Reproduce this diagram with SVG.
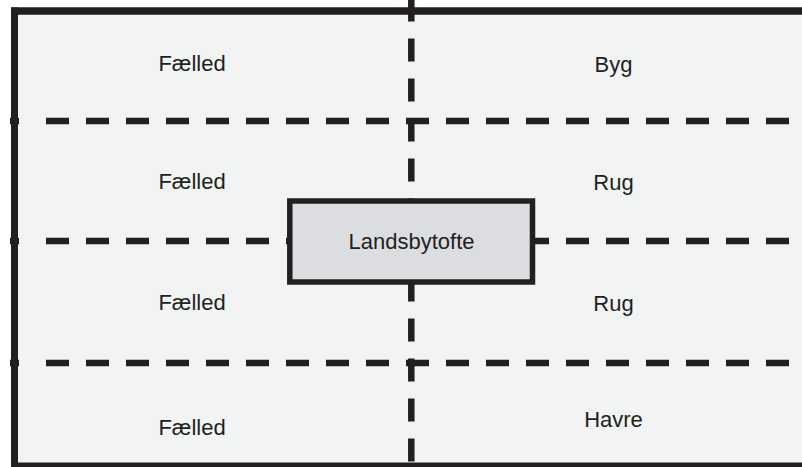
<svg xmlns="http://www.w3.org/2000/svg" width="802" height="467" viewBox="0 0 802 467">
<style>
.lbl{font-family:"Liberation Sans",Arial,sans-serif;font-size:22px;fill:#231f20;text-anchor:middle}
.dh{stroke:#231f20;stroke-width:6.5;stroke-dasharray:23 17;fill:none}
.solid{stroke:#231f20;fill:none}
</style>
<rect x="0" y="0" width="802" height="467" fill="#ffffff"/>
<rect x="14" y="11" width="800" height="454" fill="#f2f3f3"/>
<g id="connectors">
<line class="dh" x1="411.3" y1="-1.5" x2="411.3" y2="465"/>
<line class="dh" x1="46" y1="121" x2="806" y2="121"/>
<line class="dh" x1="46" y1="241" x2="806" y2="241"/>
<line class="dh" x1="46" y1="363" x2="806" y2="363"/>
<line class="solid" stroke-width="6.5" x1="10" y1="121" x2="19" y2="121"/>
<line class="solid" stroke-width="6.5" x1="10" y1="241" x2="19" y2="241"/>
<line class="solid" stroke-width="6.5" x1="10" y1="363" x2="19" y2="363"/>
</g>
<g id="frame">
<line class="solid" stroke-width="7" x1="14.5" y1="7.5" x2="14.5" y2="467"/>
<line class="solid" stroke-width="7.5" x1="11" y1="11" x2="806" y2="11"/>
<line class="solid" stroke-width="6" x1="11" y1="465.5" x2="806" y2="465.5"/>
</g>
<g id="landsbytofte">
<rect x="289.8" y="201" width="242.7" height="81" fill="#dcdde0" stroke="#231f20" stroke-width="5.5"/>
<text class="lbl" x="411.5" y="249">Landsbytofte</text>
</g>
<g id="faelled1"><text class="lbl" x="192" y="71">Fælled</text></g>
<g id="byg"><text class="lbl" x="613.5" y="72">Byg</text></g>
<g id="faelled2"><text class="lbl" x="192" y="189">Fælled</text></g>
<g id="rug1"><text class="lbl" x="613.5" y="190">Rug</text></g>
<g id="faelled3"><text class="lbl" x="192" y="310">Fælled</text></g>
<g id="rug2"><text class="lbl" x="613.5" y="311">Rug</text></g>
<g id="faelled4"><text class="lbl" x="192" y="434.5">Fælled</text></g>
<g id="havre"><text class="lbl" x="613.5" y="426.7">Havre</text></g>
</svg>
